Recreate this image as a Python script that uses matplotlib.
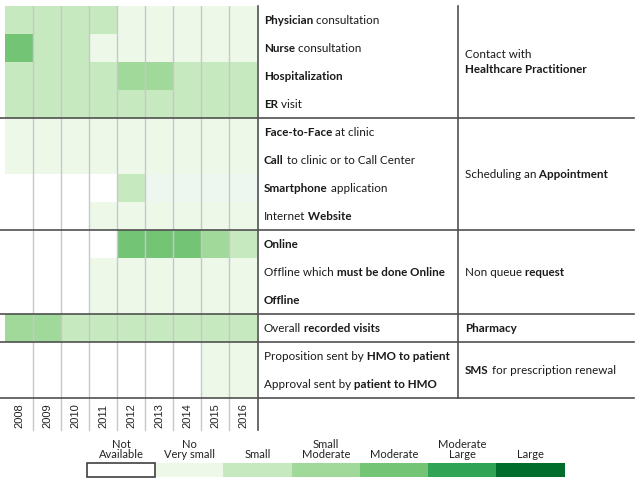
import numpy as np
import matplotlib.pyplot as plt
from matplotlib.colors import ListedColormap, BoundaryNorm
from matplotlib.patches import Rectangle

plt.rcParams['font.family'] = ['Lato', 'DejaVu Sans']

years = [2008, 2009, 2010, 2011, 2012, 2013, 2014, 2015, 2016]

# 0 = not available, 0.5 = barely visible, 1..6 = no/very small .. large
levels = np.array([
    [2, 2, 2, 2, 1, 1, 1, 1, 1],        # Physician
    [4, 2, 2, 1, 1, 1, 1, 1, 1],        # Nurse
    [2, 2, 2, 2, 3, 3, 2, 2, 2],        # Hospitalization
    [2, 2, 2, 2, 2, 2, 2, 2, 2],        # ER
    [1, 1, 1, 1, 1, 1, 1, 1, 1],        # Face-to-face
    [1, 1, 1, 1, 1, 1, 1, 1, 1],        # Call
    [0, 0, 0, 0, 2, 0.5, 0.5, 0.5, 0.5],  # Smartphone
    [0, 0, 0, 1, 1, 1, 1, 1, 1],        # Website
    [0, 0, 0, 0, 4, 4, 4, 3, 2],        # Online
    [0, 0, 0, 1, 1, 1, 1, 1, 1],        # Offline must be online
    [0, 0, 0, 1, 1, 1, 1, 1, 1],        # Offline
    [3, 3, 2, 2, 2, 2, 2, 2, 2],        # Pharmacy visits
    [0, 0, 0, 0, 0, 0, 0, 1, 1],        # SMS proposition
    [0, 0, 0, 0, 0, 0, 0, 1, 1],        # SMS approval
])

row_labels = [
    [("Physician", True), ("consultation", False)],
    [("Nurse", True), ("consultation", False)],
    [("Hospitalization", True)],
    [("ER", True), ("visit", False)],
    [("Face-to-Face", True), ("at clinic", False)],
    [("Call", True), ("to clinic or to Call Center", False)],
    [("Smartphone", True), ("application", False)],
    [("Internet", False), ("Website", True)],
    [("Online", True)],
    [("Offline which", False), ("must be done Online", True)],
    [("Offline", True)],
    [("Overall", False), ("recorded visits", True)],
    [("Proposition sent by", False), ("HMO to patient", True)],
    [("Approval sent by", False), ("patient to HMO", True)],
]

groups = [
    (0, 4, [[("Contact with", False)], [("Healthcare Practitioner", True)]]),
    (4, 8, [[("Scheduling an", False), ("Appointment", True)]]),
    (8, 11, [[("Non queue", False), ("request", True)]]),
    (11, 12, [[("Pharmacy", True)]]),
    (12, 14, [[("SMS", True), ("for prescription renewal", False)]]),
]

legend_labels = ["Not\nAvailable", "No\nVery small", "Small", "Small\nModerate",
                 "Moderate", "Moderate\nLarge", "Large"]

colors = ['#ffffff', '#eef6f0', '#edf8e9', '#c7e9c0', '#a1d99b', '#74c476', '#31a354', '#006d2c']
cmap = ListedColormap(colors)
norm = BoundaryNorm([-0.25, 0.25, 0.75, 1.5, 2.5, 3.5, 4.5, 5.5, 6.5], cmap.N)

W, H = 640, 480
top, row_h, col_w, left = 6, 28, 28, 5
nrows, ncols = levels.shape
bottom = top + nrows * row_h
right = left + ncols * col_w

fig = plt.figure(figsize=(6.4, 4.8), dpi=100)

# heatmap
ax = fig.add_axes([left / W, (H - bottom) / H, (right - left) / W, (bottom - top) / H])
ax.imshow(levels, cmap=cmap, norm=norm, aspect='auto', interpolation='nearest')
for j in range(ncols - 1):
    ax.axvline(j + 0.5, color='#c8c8c8', lw=1)
ax.set_xticks(range(ncols), [str(y) for y in years], rotation=90,
              fontsize=8, family='Liberation Sans', color='#222222')
ax.set_yticks([])
ax.tick_params(length=0, pad=4)
for s in ax.spines.values():
    s.set_visible(False)

# overlay for table lines and text
ov = fig.add_axes([0, 0, 1, 1], zorder=5)
ov.set_xlim(0, W)
ov.set_ylim(H, 0)
ov.axis('off')

line_c = '#505050'
for j in range(1, ncols):
    ov.plot([left + j * col_w] * 2, [bottom, bottom + 32], color='#c8c8c8', lw=1)
ov.plot([right + 1, right + 1], [top, bottom + 32], color=line_c, lw=1.2)
ov.plot([458, 458], [top, bottom], color=line_c, lw=1.2)
for g0, g1, _ in groups:
    ov.plot([0, 634], [top + g1 * row_h] * 2, color=line_c, lw=1.2)


def rich(x, y, pieces, size=8.4):
    txt = None
    for k, (t, b) in enumerate(pieces):
        kw = dict(fontsize=size, color='#1a1a1a', fontweight='bold' if b else 'normal')
        if txt is None:
            txt = ov.text(x, y, t, va='center', ha='left', **kw)
        else:
            txt = ov.annotate(" " + t, xy=(1, 0), xycoords=txt, va='bottom', ha='left', **kw)


for i, pieces in enumerate(row_labels):
    rich(264, top + (i + 0.5) * row_h, pieces)

for g0, g1, lines in groups:
    yc = top + (g0 + g1) / 2 * row_h
    n = len(lines)
    for k, p in enumerate(lines):
        rich(465, yc + (k - (n - 1) / 2) * 15, p)

# legend
lg = fig.add_axes([87 / W, 3 / H, 478 / W, 14 / H])
lg.imshow([[0, 1, 2, 3, 4, 5, 6]], cmap=cmap, norm=norm, aspect='auto')
lg.add_patch(Rectangle((-0.5, -0.5), 1, 1, fill=False, ec='#404040', lw=1.2, clip_on=False))
lg.set_xticks(range(7), legend_labels, fontsize=8, color='#222222', linespacing=0.95)
lg.xaxis.tick_top()
lg.set_yticks([])
lg.tick_params(length=0, pad=2)
for s in lg.spines.values():
    s.set_visible(False)

fig.savefig('out.png', dpi=100)
